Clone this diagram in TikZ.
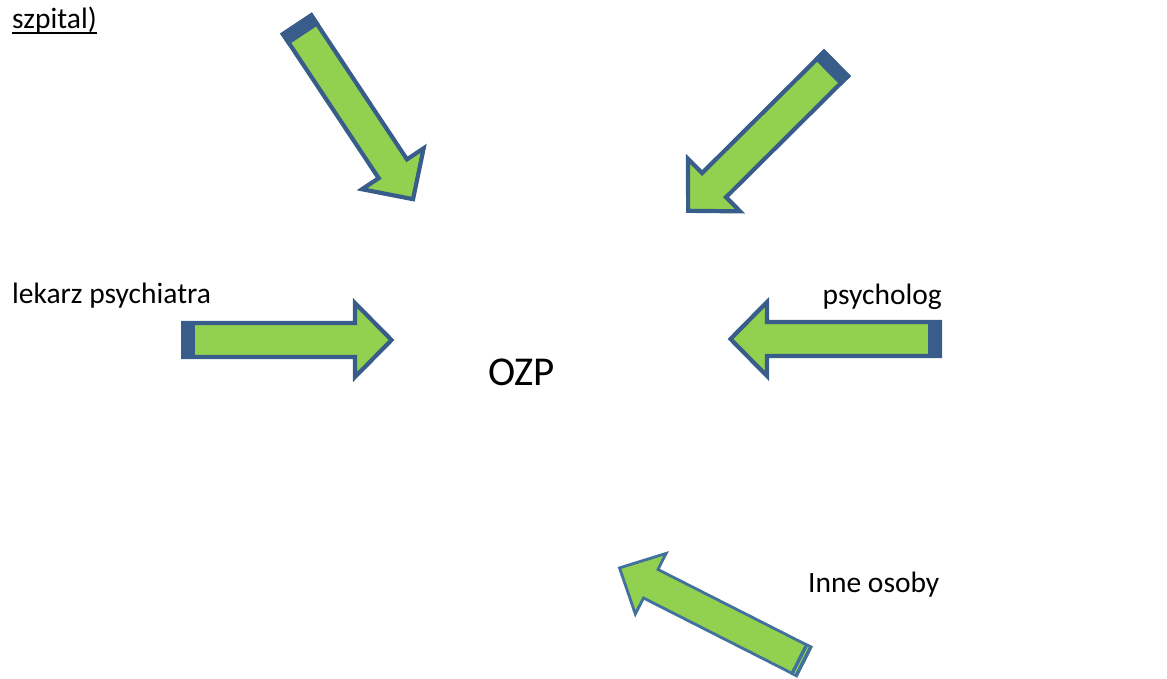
\documentclass[tikz,border=0pt]{standalone}
\usepackage{fontspec}
\setmainfont{Carlito}
\definecolor{arrfill}{HTML}{92D050}
\definecolor{arrline}{HTML}{385D8A}
\definecolor{arrlinelight}{HTML}{41719C}
\tikzset{
  blockarrow/.style={fill=arrfill, draw=arrline, line width=4.2pt, line join=miter},
  thinarrow/.style={fill=arrfill, draw=arrlinelight, line width=2.8pt, line join=miter},
  lbl/.style={inner sep=0pt, font=\fontsize{29.5}{34}\selectfont},
  bigl/.style={inner sep=0pt, font=\fontsize{41}{48}\selectfont}
}
% #1 x, #2 y, #3 angle, #4 length
\newcommand\myblockarrow[4]{%
  \begin{scope}[shift={(#1,#2)}, rotate=#3]
    \draw[blockarrow] (2.1,-17) -- ({#4-40},-17) -- ({#4-40},-37) -- ({#4-3.5},0)
      -- ({#4-40},37) -- ({#4-40},17) -- (2.1,17) -- cycle;
    \fill[arrline] (0,-19.1) rectangle (14,19.1);
  \end{scope}}
\newcommand\mythinarrow[4]{%
  \begin{scope}[shift={(#1,#2)}, rotate=#3]
    \draw[thinarrow] (1.4,-16) -- ({#4-37},-16) -- ({#4-37},-34) -- ({#4-2},0)
      -- ({#4-37},34) -- ({#4-37},16) -- (1.4,16) -- cycle;
    \fill[arrlinelight] (0,-17.4) rectangle (8,17.4);
    \draw[arrfill, line width=1pt] (4,-15) -- (4,15);
  \end{scope}}
\begin{document}
\begin{tikzpicture}[x=1pt,y=1pt]
\useasboundingbox (0,-678) rectangle (1167,0);
% arrows
\myblockarrow{296}{-23}{-56.4}{215}
\myblockarrow{837.5}{-62.5}{-135.2}{214}
\myblockarrow{181}{-340}{0}{214}
\myblockarrow{942}{-339}{180}{215}
\mythinarrow{805}{-662}{153.1}{210}
% texts
\node[lbl, anchor=base west] (szp) at (12,-28) {szpital)};
\draw[line width=2pt] ([yshift=-4.5pt]szp.base west) -- ([yshift=-4.5pt]szp.base east);
\node[lbl, anchor=base west] (lek) at (12,-303) {lekarz psychiatra};
\node[lbl, anchor=base east] (psy) at (942,-304) {psycholog};
\node[bigl, anchor=base] (ozp) at (521.5,-385) {OZP};
\node[lbl, anchor=base west] (inne) at (808,-592) {Inne osoby};
\end{tikzpicture}
\end{document}
